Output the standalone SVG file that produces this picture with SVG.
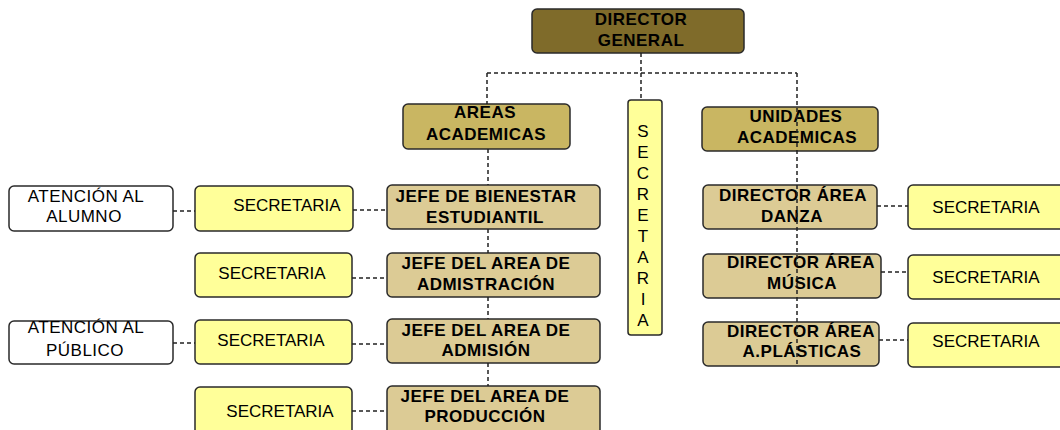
<svg xmlns="http://www.w3.org/2000/svg" width="1060" height="430" viewBox="0 0 1060 430">
<style>
.box{stroke:#2a2a2a;stroke-width:1.5}
.dg{fill:#7f6b2a}
.area{fill:#c9b662}
.jefe{fill:#dccb95}
.sec{fill:#ffff99}
.wht{fill:#ffffff}
.b{font-family:"Liberation Sans",Arial,sans-serif;font-weight:bold;font-size:17px;letter-spacing:0.5px;fill:#000;text-anchor:middle}
.n{font-family:"Liberation Sans",Arial,sans-serif;font-size:17px;fill:#000;text-anchor:middle}
.con{fill:none;stroke:#222;stroke-width:1.5;stroke-dasharray:4 3}
</style>
<rect width="1060" height="430" fill="#ffffff"/>

<g id="director-general">
<rect class="box dg" x="532" y="9" width="212" height="44" rx="5"/>
<text class="b" x="641" y="25">DIRECTOR</text>
<text class="b" x="641" y="46">GENERAL</text>
</g>

<g id="areas-academicas">
<rect class="box area" x="403" y="104" width="167" height="45" rx="5"/>
<text class="b" x="485" y="118">AREAS</text>
<text class="b" x="486" y="140">ACADEMICAS</text>
</g>

<g id="secretaria-central">
<rect class="box sec" x="628" y="100" width="34" height="235" rx="3"/>
<text class="n" x="643" y="137">S</text>
<text class="n" x="643" y="158">E</text>
<text class="n" x="643" y="179">C</text>
<text class="n" x="643" y="200">R</text>
<text class="n" x="643" y="221">E</text>
<text class="n" x="643" y="242">T</text>
<text class="n" x="643" y="263">A</text>
<text class="n" x="643" y="284">R</text>
<text class="n" x="643" y="305">I</text>
<text class="n" x="643" y="326">A</text>
</g>

<g id="unidades-academicas">
<rect class="box area" x="702" y="107" width="176" height="44" rx="5"/>
<text class="b" x="796" y="122">UNIDADES</text>
<text class="b" x="797" y="143">ACADEMICAS</text>
</g>

<g id="jefe-bienestar">
<rect class="box jefe" x="387" y="185" width="213" height="44" rx="5"/>
<text class="b" x="486" y="202">JEFE DE BIENESTAR</text>
<text class="b" x="485" y="223">ESTUDIANTIL</text>
</g>
<g id="jefe-administracion">
<rect class="box jefe" x="387" y="253" width="213" height="44" rx="5"/>
<text class="b" x="486" y="269">JEFE DEL AREA DE</text>
<text class="b" x="486" y="290">ADMISTRACIÓN</text>
</g>
<g id="jefe-admision">
<rect class="box jefe" x="387" y="319" width="213" height="44" rx="5"/>
<text class="b" x="486" y="336">JEFE DEL AREA DE</text>
<text class="b" x="486" y="356">ADMISIÓN</text>
</g>
<g id="jefe-produccion">
<rect class="box jefe" x="387" y="386" width="213" height="50" rx="5"/>
<text class="b" x="485" y="402">JEFE DEL AREA DE</text>
<text class="b" x="485" y="422">PRODUCCIÓN</text>
</g>

<g id="sec-bienestar">
<rect class="box sec" x="195" y="186" width="158" height="45" rx="5"/>
<text class="n" x="287" y="211">SECRETARIA</text>
</g>
<g id="sec-administracion">
<rect class="box sec" x="195" y="253" width="157" height="44" rx="5"/>
<text class="n" x="272" y="279">SECRETARIA</text>
</g>
<g id="sec-admision">
<rect class="box sec" x="195" y="320" width="157" height="44" rx="5"/>
<text class="n" x="271" y="346">SECRETARIA</text>
</g>
<g id="sec-produccion">
<rect class="box sec" x="195" y="387" width="157" height="50" rx="5"/>
<text class="n" x="280" y="417">SECRETARIA</text>
</g>

<g id="atencion-alumno">
<rect class="box wht" x="9" y="186" width="164" height="45" rx="5"/>
<text class="n" x="86" y="202" style="letter-spacing:0.5px">ATENCIÓN AL</text>
<text class="n" x="84" y="222" style="letter-spacing:0.5px">ALUMNO</text>
</g>
<g id="atencion-publico">
<rect class="box wht" x="9" y="321" width="164" height="43" rx="5"/>
<text class="n" x="86" y="333" style="letter-spacing:0.5px">ATENCIÓN AL</text>
<text class="n" x="85" y="356" style="letter-spacing:0.5px">PÚBLICO</text>
</g>

<g id="director-danza">
<rect class="box jefe" x="703" y="185" width="174" height="44" rx="5"/>
<text class="b" x="793" y="201">DIRECTOR ÁREA</text>
<text class="b" x="792" y="222">DANZA</text>
</g>
<g id="director-musica">
<rect class="box jefe" x="703" y="254" width="178" height="44" rx="5"/>
<text class="b" x="801" y="268">DIRECTOR ÁREA</text>
<text class="b" x="802" y="289">MÚSICA</text>
</g>
<g id="director-plasticas">
<rect class="box jefe" x="703" y="322" width="176" height="44" rx="5"/>
<text class="b" x="801" y="337">DIRECTOR ÁREA</text>
<text class="b" x="802" y="357">A.PLÁSTICAS</text>
</g>

<g id="sec-danza">
<rect class="box sec" x="908" y="185" width="160" height="44" rx="5"/>
<text class="n" x="986" y="213">SECRETARIA</text>
</g>
<g id="sec-musica">
<rect class="box sec" x="908" y="255" width="160" height="44" rx="5"/>
<text class="n" x="986" y="283">SECRETARIA</text>
</g>
<g id="sec-plasticas">
<rect class="box sec" x="908" y="323" width="160" height="44" rx="5"/>
<text class="n" x="986" y="347">SECRETARIA</text>
</g>

<g id="connectors">
<path class="con" d="M641 53V73M487 73H797M487 73V104M641 73V100"/>
<path class="con" d="M488 149V185M488 229V253M488 297V319M488 363V386"/>
<path class="con" d="M797 73V367"/>
<path class="con" d="M353 210H387M352 278H387M352 344H387M352 411H387"/>
<path class="con" d="M173 211H195M173 343H195"/>
<path class="con" d="M877 206H908M881 272H908M879 340H908"/>
</g>
</svg>
